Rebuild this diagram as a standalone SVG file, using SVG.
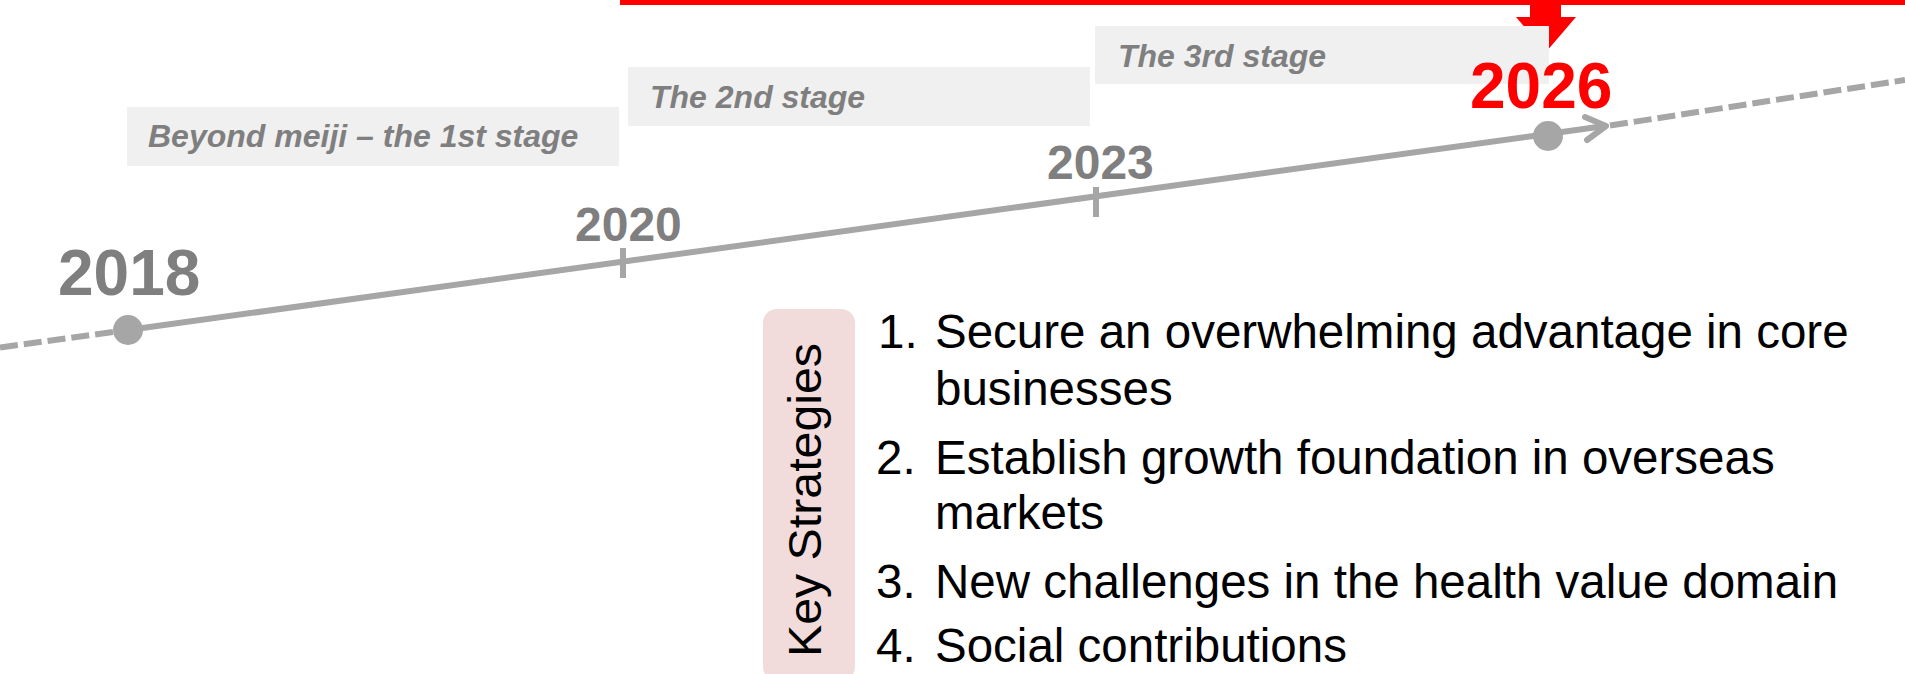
<svg xmlns="http://www.w3.org/2000/svg" width="1905" height="674" viewBox="0 0 1905 674">
  <style>
    .stage-box { fill: #f0f0f0; }
    .stage-text { font-family: "Liberation Sans", Arial, sans-serif; font-size: 32px; font-weight: bold; font-style: italic; fill: #7f7f7f; }
    .year { font-family: "Liberation Sans", Arial, sans-serif; font-weight: bold; fill: #7f7f7f; }
    .year-big { font-size: 64px; }
    .year-small { font-size: 48px; }
    .year-goal { fill: #ff0000; }
    .axis { stroke: #a6a6a6; stroke-width: 6; fill: none; }
    .axis-dash { stroke: #a6a6a6; stroke-width: 6; fill: none; stroke-dasharray: 18 6; }
    .tick { stroke: #a6a6a6; stroke-width: 6; }
    .dot { fill: #a6a6a6; }
    .item { font-family: "Liberation Sans", Arial, sans-serif; font-size: 47.5px; fill: #000000; }
    .side-label { font-family: "Liberation Sans", Arial, sans-serif; font-size: 46px; fill: #000000; }
  </style>

  <!-- timeline axis -->
  <g id="connectors">
    <line class="axis-dash" x1="0" y1="347.5" x2="128" y2="330"/>
    <line class="axis" x1="128" y1="330" x2="1605" y2="126"/>
    <polyline class="axis" points="1585,117 1606,126 1587,140" stroke-linecap="round" stroke-linejoin="round"/>
    <line class="axis-dash" x1="1610" y1="125.5" x2="1905" y2="80"/>
    <line class="tick" x1="623" y1="248" x2="623" y2="278"/>
    <line class="tick" x1="1096" y1="187" x2="1096" y2="217"/>
  </g>

  <!-- target banner -->
  <g id="target-banner">
    <rect x="620" y="0" width="1285" height="5" fill="#ff0000"/>
    <polygon points="1530,0 1561,0 1561,17 1576,17 1546,52 1516,17 1530,17" fill="#ff0000"/>
  </g>

  <!-- stage labels -->
  <g id="stage-1">
    <rect class="stage-box" x="127" y="107" width="492" height="59"/>
    <text class="stage-text" x="148" y="147">Beyond meiji – the 1st stage</text>
  </g>
  <g id="stage-2">
    <rect class="stage-box" x="628" y="67" width="462" height="59"/>
    <text class="stage-text" x="650" y="108">The 2nd stage</text>
  </g>
  <g id="stage-3">
    <rect class="stage-box" x="1095" y="26" width="454" height="58"/>
    <text class="stage-text" x="1118" y="67">The 3rd stage</text>
  </g>

  <!-- milestones -->
  <g id="year-2018">
    <circle class="dot" cx="128" cy="330" r="15"/>
    <text class="year year-big" x="58" y="295">2018</text>
  </g>
  <g id="year-2020">
    <text class="year year-small" x="575" y="241">2020</text>
  </g>
  <g id="year-2023">
    <text class="year year-small" x="1047" y="179">2023</text>
  </g>
  <g id="year-2026">
    <circle class="dot" cx="1548" cy="136" r="15"/>
    <text class="year year-big year-goal" x="1470" y="108">2026</text>
  </g>

  <!-- strategy panel -->
  <g id="key-strategies">
    <rect x="763" y="309" width="92" height="372" rx="14" ry="14" fill="#f2dcdb"/>
    <text class="side-label" x="821" y="500" text-anchor="middle" transform="rotate(-90 821 500)" textLength="314" lengthAdjust="spacingAndGlyphs">Key Strategies</text>
  </g>
  <g id="strategy-list">
    <text class="item" x="878" y="348">1.</text>
    <text class="item" x="935" y="348">Secure an overwhelming advantage in core</text>
    <text class="item" x="935" y="405">businesses</text>
    <text class="item" x="876" y="474">2.</text>
    <text class="item" x="935" y="474">Establish growth foundation in overseas</text>
    <text class="item" x="935" y="529">markets</text>
    <text class="item" x="876" y="598">3.</text>
    <text class="item" x="935" y="598">New challenges in the health value domain</text>
    <text class="item" x="876" y="662">4.</text>
    <text class="item" x="935" y="662">Social contributions</text>
  </g>
</svg>
